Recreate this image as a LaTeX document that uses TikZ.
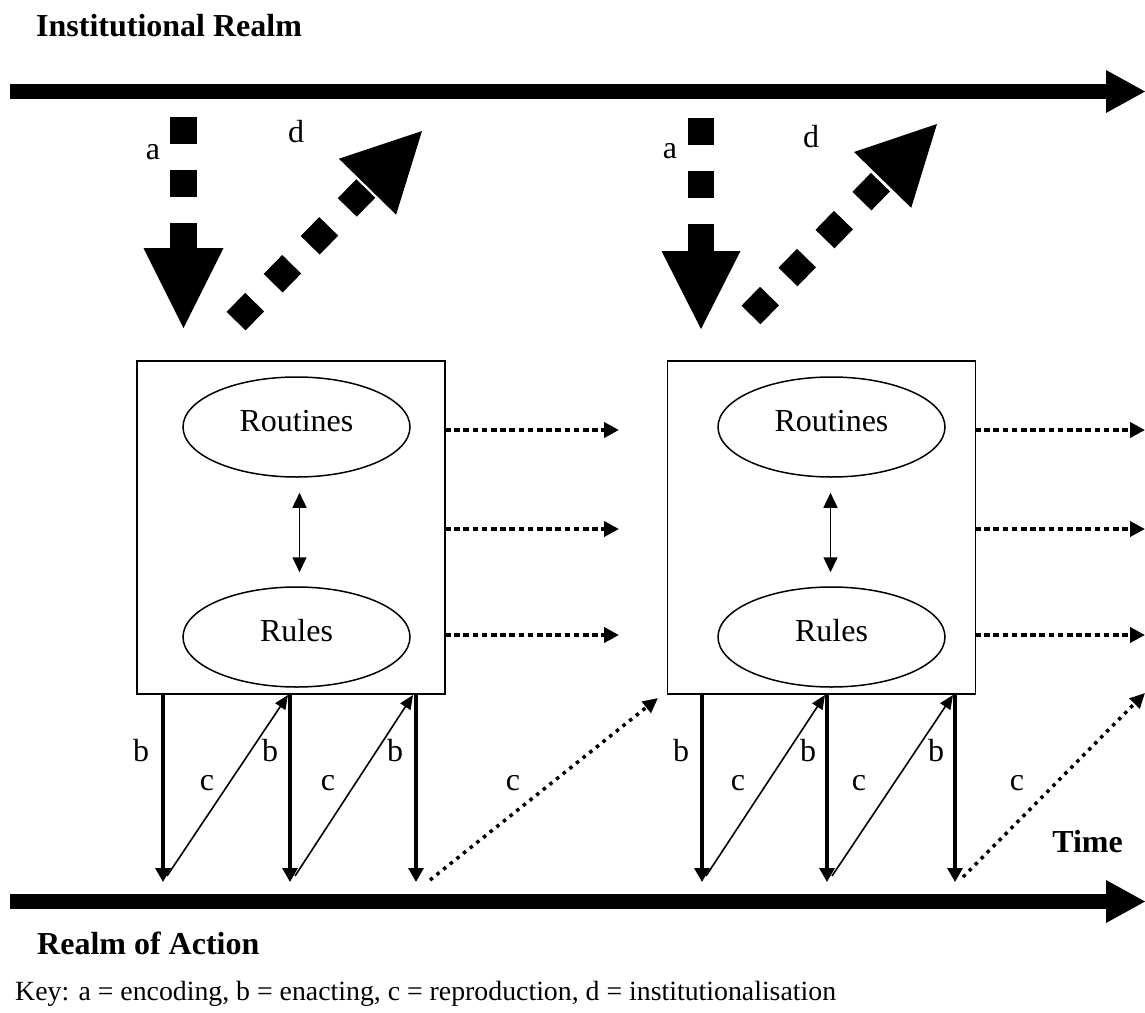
\documentclass[tikz,border=0pt]{standalone}
\usepackage{fontspec}
\setmainfont{Liberation Serif}
\usetikzlibrary{arrows.meta,shapes.geometric}
\begin{document}
\begin{tikzpicture}[x=1pt,y=-1pt,
  every node/.style={font=\fontsize{32}{38}\selectfont},
  title/.style={font=\fontsize{32}{38}\selectfont\bfseries, anchor=base west, inner sep=0pt},
  lbl/.style={anchor=base, inner sep=0pt},
  panel/.style={draw, line width=1.7pt, minimum width=308pt, minimum height=333pt, inner sep=0pt},
  oval/.style={ellipse, draw, line width=1.5pt, minimum width=227pt, minimum height=100pt, inner sep=0pt, text height=21pt, text depth=12pt},
  bar/.style={line width=15pt},
  bigdash/.style={line width=26.5pt, dash pattern=on 26.5pt off 26.5pt},
  enact/.style={line width=3.2pt, -{Triangle[length=14pt,width=15pt]}},
  repro/.style={line width=1.6pt, -{Triangle[length=14pt,width=12pt]}},
  persist/.style={line width=4pt, dash pattern=on 5.5pt off 3.7pt, -{Triangle[length=15pt,width=15pt]}},
  reprodot/.style={line width=3.5pt, dash pattern=on 3.5pt off 5pt, -{Triangle[length=15pt,width=14pt]}},
  mutual/.style={line width=1.5pt, {Triangle[length=15pt,width=14pt]}-{Triangle[length=15pt,width=14pt]}},
]
\useasboundingbox (0,0) rectangle (1145,1012);

% realms
\node[title] (inst) at (36,36) {Institutional Realm};
\node[title] (roa) at (37,954) {Realm of Action};
\node[title, anchor=base east] (time) at (1123,852) {Time};
\node[anchor=base west, inner sep=0pt, font=\fontsize{27.8}{34}\selectfont] (key) at (15,1000) {Key: a = encoding, b = enacting, c = reproduction, d = institutionalisation};

\coordinate (topL) at (10,91.5);
\coordinate (topM) at (1107,91.5);
\draw[bar] (topL) -- (topM);
\fill (1106,70) -- (1106,113) -- (1145,91.5) -- cycle;
\coordinate (botL) at (10,901.5);
\coordinate (botM) at (1107,901.5);
\draw[bar] (botL) -- (botM);
\fill (1106,880) -- (1106,923) -- (1145,901.5) -- cycle;

% ---------- panel 1 ----------
\node[panel] (box1) at (291,527.5) {};
\node[oval] (rout1) at (296.5,427) {Routines};
\node[oval] (rule1) at (296.5,637) {Rules};
\draw[mutual, shorten <=15pt, shorten >=14pt] ([xshift=3pt]rout1.south) -- ([xshift=3pt]rule1.north);

\coordinate (p1h1a) at (445,430); \coordinate (p1h1b) at (619,430);
\coordinate (p1h2a) at (445,529); \coordinate (p1h2b) at (619,529);
\coordinate (p1h3a) at (445,635); \coordinate (p1h3b) at (619,635);
\draw[persist] (p1h1a) -- (p1h1b);
\draw[persist] (p1h2a) -- (p1h2b);
\draw[persist] (p1h3a) -- (p1h3b);

\coordinate (p1t1) at (163,694); \coordinate (p1b1) at (163,882);
\coordinate (p1t2) at (290,694); \coordinate (p1b2) at (290,882);
\coordinate (p1t3) at (416,694); \coordinate (p1b3) at (416,882);
\draw[enact] (p1t1) -- (p1b1);
\draw[enact] (p1t2) -- (p1b2);
\draw[enact] (p1t3) -- (p1b3);
\coordinate (p1c1s) at (167,876); \coordinate (p1c1e) at (288,695);
\coordinate (p1c2s) at (295,876); \coordinate (p1c2e) at (413,695);
\draw[repro] (p1c1s) -- (p1c1e);
\draw[repro] (p1c2s) -- (p1c2e);
\coordinate (p1c3s) at (430,880); \coordinate (p1c3e) at (658,698);
\draw[reprodot] (p1c3s) -- (p1c3e);

\node[lbl] (p1lb1) at (141,761) {b};
\node[lbl] (p1lc1) at (207,790) {c};
\node[lbl] (p1lb2) at (270,761) {b};
\node[lbl] (p1lc2) at (328,790) {c};
\node[lbl] (p1lb3) at (395,761) {b};
\node[lbl] (p1lc3) at (513,790) {c};

% encoding arrow a
\coordinate (a1s) at (183.5,117); \coordinate (a1m) at (183.5,248.5);
\draw[bigdash] (a1s) -- (a1m);
\fill (143.5,248) -- (223.5,248) -- (183.5,328) -- cycle;
\node[lbl] (p1la) at (153,159) {a};
% institutionalisation arrow d
\coordinate (d1s) at (236.1,321.1); \coordinate (d1m) at (367.5,186.7);
\draw[bigdash] (d1s) -- (d1m);
\fill (396.1,214.7) -- (338.9,158.7) -- (422,131) -- cycle;
\node[lbl] (p1ld) at (296,142) {d};

% ---------- panel 2 ----------
\node[panel] (box2) at (821.5,527.5) {};
\node[oval] (rout2) at (831.5,427) {Routines};
\node[oval] (rule2) at (831.5,637) {Rules};
\draw[mutual, shorten <=15pt, shorten >=14pt] ([xshift=-1pt]rout2.south) -- ([xshift=-1pt]rule2.north);

\coordinate (p2h1a) at (975,430); \coordinate (p2h1b) at (1145,430);
\coordinate (p2h2a) at (975,529); \coordinate (p2h2b) at (1145,529);
\coordinate (p2h3a) at (975,635); \coordinate (p2h3b) at (1145,635);
\draw[persist] (p2h1a) -- (p2h1b);
\draw[persist] (p2h2a) -- (p2h2b);
\draw[persist] (p2h3a) -- (p2h3b);

\coordinate (p2t1) at (702,694); \coordinate (p2b1) at (702,882);
\coordinate (p2t2) at (827,694); \coordinate (p2b2) at (827,882);
\coordinate (p2t3) at (955,694); \coordinate (p2b3) at (955,882);
\draw[enact] (p2t1) -- (p2b1);
\draw[enact] (p2t2) -- (p2b2);
\draw[enact] (p2t3) -- (p2b3);
\coordinate (p2c1s) at (706,876); \coordinate (p2c1e) at (825,695);
\coordinate (p2c2s) at (832,876); \coordinate (p2c2e) at (953,695);
\draw[repro] (p2c1s) -- (p2c1e);
\draw[repro] (p2c2s) -- (p2c2e);
\coordinate (p2c3s) at (963,877); \coordinate (p2c3e) at (1145,693);
\draw[reprodot] (p2c3s) -- (p2c3e);

\node[lbl] (p2lb1) at (681,761) {b};
\node[lbl] (p2lc1) at (738,790) {c};
\node[lbl] (p2lb2) at (808,761) {b};
\node[lbl] (p2lc2) at (859,790) {c};
\node[lbl] (p2lb3) at (936,761) {b};
\node[lbl] (p2lc3) at (1017,790) {c};

\coordinate (a2s) at (701,118); \coordinate (a2m) at (701,251.5);
\draw[bigdash] (a2s) -- (a2m);
\fill (661.5,251) -- (740.5,251) -- (701,329) -- cycle;
\node[lbl] (p2la) at (670,158) {a};
\coordinate (d2s) at (751,315); \coordinate (d2m) at (882.6,179.9);
\draw[bigdash] (d2s) -- (d2m);
\fill (911.2,207.8) -- (854,152) -- (937,124) -- cycle;
\node[lbl] (p2ld) at (811,147) {d};
\end{tikzpicture}
\end{document}
